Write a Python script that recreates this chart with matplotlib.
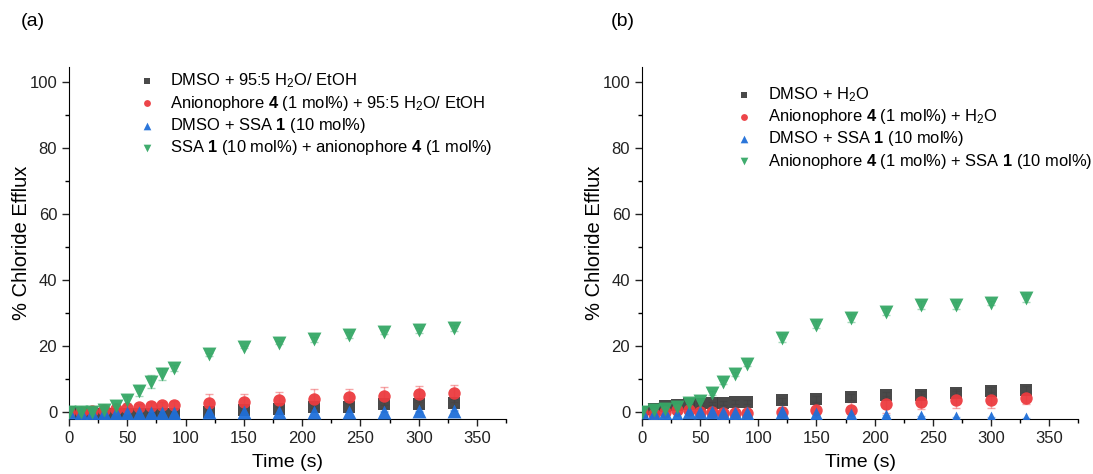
import numpy as np
import matplotlib
matplotlib.use("Agg")
from matplotlib import pyplot as plt

plt.rcParams['font.family'] = ['Liberation Sans', 'DejaVu Sans']
plt.rcParams['mathtext.fontset'] = 'custom'
plt.rcParams['mathtext.rm'] = 'Liberation Sans'
plt.rcParams['mathtext.it'] = 'Liberation Sans:italic'
plt.rcParams['mathtext.bf'] = 'Liberation Sans:bold'

# time points (s)
t = [0, 10, 20, 30, 40, 50, 60, 70, 80, 90, 120, 150, 180, 210, 240, 270, 300, 330]

# panel (a)
a_black = [0, -0.2, -0.3, -0.5, -0.6, -0.7, -0.7, -0.7, -0.7, -0.7, 0, 0.6, 0.8, 1.4, 1.6, 2.4, 2.4, 2.7]
a_black_err = [0.3, 0.3, 0.3, 0.4, 0.4, 0.5, 0.5, 0.5, 0.5, 0.5, 0.6, 0.8, 0.8, 1.0, 1.0, 1.2, 1.2, 1.3]
a_red = [0, 0, 0.3, 0.6, 1.0, 1.2, 1.4, 1.7, 2.0, 2.1, 2.8, 3.1, 3.7, 4.1, 4.7, 4.9, 5.5, 5.7]
a_red_err = [0.3, 0.4, 0.5, 0.6, 0.8, 1.0, 1.1, 1.2, 1.2, 1.3, 2.7, 2.5, 2.3, 3.0, 2.3, 2.8, 2.5, 2.6]
a_blue = [0, -0.3, -0.3, -0.4, -0.4, -0.3, -0.2, -0.2, -0.2, -0.2, 0.1, 0.1, 0.1, 0.1, 0.1, 0.1, 0.2, 0.4]
a_blue_err = [0.2] * 18
a_green = [0, 0, 0, 0.5, 1.8, 3.8, 6.4, 9.2, 11.6, 13.4, 17.5, 19.7, 21.0, 22.0, 23.2, 24.1, 24.8, 25.4]
a_green_err = [0.3, 0.3, 0.4, 0.5, 0.8, 1.0, 1.5, 2.0, 1.8, 1.0, 0.5, 0.4, 0.5, 0.7, 0.9, 0.6, 0.8, 1.0]

# panel (b)
b_black = [0, 0.8, 1.8, 2.2, 2.4, 2.4, 2.6, 2.7, 3.1, 3.1, 3.6, 4.0, 4.5, 5.2, 5.3, 5.9, 6.3, 6.8]
b_black_err = [0.3, 0.4, 0.5, 0.5, 0.6, 0.6, 0.6, 0.7, 0.7, 0.7, 0.8, 0.8, 0.9, 1.0, 1.0, 1.1, 1.3, 1.0]
b_red = [0, -0.5, 0, 0.6, 0.5, 0, 0, -0.2, -0.2, -0.2, 0, 0.6, 0.6, 2.4, 3.2, 3.7, 3.7, 4.2]
b_red_err = [0.4, 0.5, 0.6, 0.8, 0.8, 0.8, 0.8, 0.8, 0.8, 0.8, 1.5, 2.2, 2.5, 2.6, 2.3, 2.6, 2.4, 1.8]
b_blue = [0, -0.5, -0.3, -0.8, 0, 0, 0, -0.2, -0.2, -0.2, -0.1, -0.7, -0.9, -1.3, -1.5, -1.7, -1.8, -2.1]
b_blue_err = [0.3] * 18
b_green = [0, 0.6, 1.0, 1.6, 2.6, 3.5, 5.9, 9.1, 11.5, 14.7, 22.4, 26.5, 28.5, 30.4, 32.3, 32.3, 33.0, 34.4]
b_green_err = [0.3, 0.4, 0.5, 0.6, 0.7, 0.8, 0.6, 0.6, 0.5, 0.8, 1.2, 1.2, 1.2, 1.0, 1.2, 1.1, 0.7, 1.2]

labels_a = [r"DMSO + 95:5 H$_2$O/ EtOH",
            r"Anionophore $\mathbf{4}$ (1 mol%) + 95:5 H$_2$O/ EtOH",
            r"DMSO + SSA $\mathbf{1}$ (10 mol%)",
            r"SSA $\mathbf{1}$ (10 mol%) + anionophore $\mathbf{4}$ (1 mol%)"]
labels_b = [r"DMSO + H$_2$O",
            r"Anionophore $\mathbf{4}$ (1 mol%) + H$_2$O",
            r"DMSO + SSA $\mathbf{1}$ (10 mol%)",
            r"Anionophore $\mathbf{4}$ (1 mol%) + SSA $\mathbf{1}$ (10 mol%)"]

colors = ['#404040', '#ec3b3f', '#1f6fd8', '#36a866']
markers = ['s', 'o', '^', 'v']
sizes = [75, 80, 100, 100]

fig = plt.figure(figsize=(10.93, 4.74), dpi=100)
ax1 = fig.add_axes([0.0631, 0.116, 0.400, 0.743])
ax2 = fig.add_axes([0.5874, 0.116, 0.399, 0.743])

panels = [
    (ax1, [a_black, a_red, a_blue, a_green], [a_black_err, a_red_err, a_blue_err, a_green_err], labels_a, (0.14, 1.005), "(a)", 33),
    (ax2, [b_black, b_red, b_blue, b_green], [b_black_err, b_red_err, b_blue_err, b_green_err], labels_b, (0.197, 0.967), "(b)", 623),
]

for ax, ys, errs, labs, anchor, tag, tagx in panels:
    handles = []
    for y, e, c, m, sz, lab in zip(ys, errs, colors, markers, sizes, labs):
        ax.errorbar(t, y, yerr=e, fmt='none', ecolor=c, alpha=0.45,
                    elinewidth=1, capsize=3, capthick=1)
        h = ax.scatter(t, y, marker=m, s=sz, color=c, alpha=0.95, linewidths=0, zorder=3, label=lab)
        handles.append(h)
    ax.set_xlim(0, 375)
    ax.set_ylim(-2.1, 104.5)
    ax.set_xticks(np.arange(0, 351, 50))
    ax.set_xticks(np.arange(25, 376, 50), minor=True)
    ax.set_yticks(np.arange(0, 101, 20))
    ax.set_yticks(np.arange(10, 101, 20), minor=True)
    for s in ['top', 'right']:
        ax.spines[s].set_visible(False)
    ax.tick_params(which='major', direction='out', length=5, width=1, labelsize=12, colors='#222222')
    ax.tick_params(which='minor', direction='out', length=3, width=1)
    ax.set_xlabel("Time (s)", fontsize=14, labelpad=6)
    ax.set_ylabel("% Chloride Efflux", fontsize=14.5, labelpad=-1)
    leg = ax.legend(handles=handles, loc='upper left', bbox_to_anchor=anchor, frameon=False,
                    fontsize=11.9, markerscale=0.55, handlelength=1.2, handletextpad=0.8,
                    labelspacing=0.2, borderaxespad=0)
    fig.text(tagx / 1093, 1 - 22 / 474, tag, fontsize=14, ha='center', va='center')

fig.savefig("out.png", dpi=100)
